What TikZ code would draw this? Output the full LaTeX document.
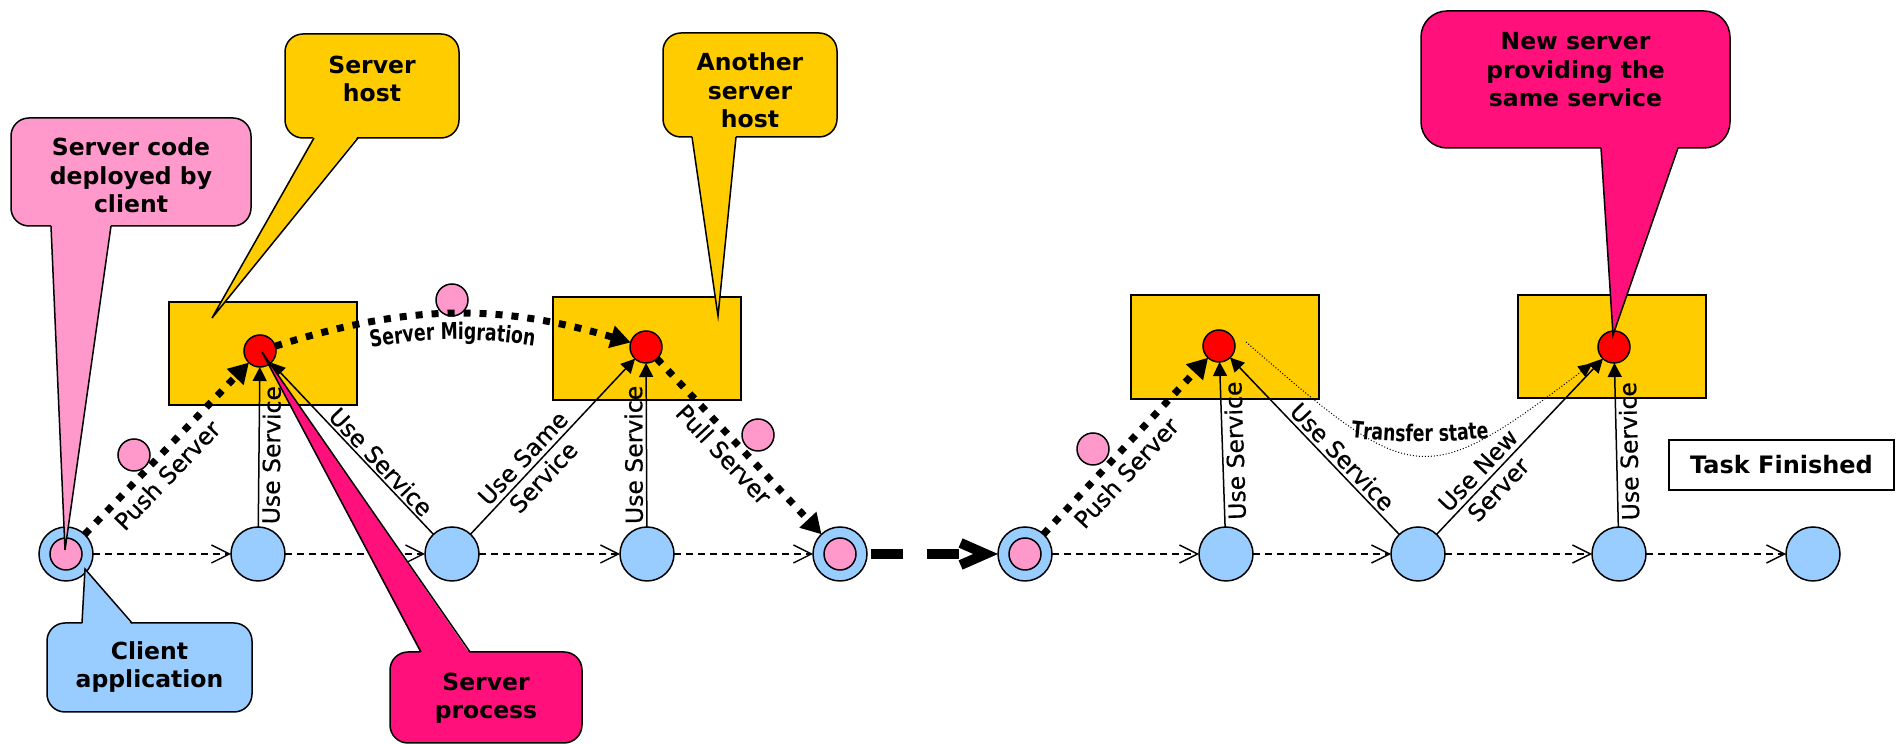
\documentclass[tikz,border=0pt]{standalone}
\usepackage{fontspec}
\setmainfont{DejaVu Sans}
\newfontfamily\narrowfont{DejaVu Sans}[FakeStretch=0.75]
\newfontfamily\edgefont{DejaVu Sans}[FakeBold=0.6]
\usetikzlibrary{arrows.meta,calc,decorations.text}

\definecolor{hostyellow}{HTML}{FFCC00}
\definecolor{codepink}{HTML}{FF99CC}
\definecolor{clientblue}{HTML}{99CCFF}
\definecolor{procmagenta}{RGB}{255,16,122}
\definecolor{procred}{HTML}{FF0000}

\newcommand\lblfont{\edgefont\fontsize{11.75pt}{14pt}\selectfont}
\newcommand\bubblefont{\bfseries\fontsize{11.75pt}{14.25pt}\selectfont}
\newcommand\arcfont{\narrowfont\bfseries\fontsize{11.5pt}{13pt}\selectfont}

\begin{document}
\begin{tikzpicture}[x=0.5pt,y=0.5pt,
  hostbox/.style={draw,line width=1pt,fill=hostyellow,minimum width=94pt,minimum height=51.75pt,inner sep=0pt,outer sep=0pt},
  stepnode/.style={circle,draw,line width=0.75pt,fill=clientblue,minimum size=27pt,inner sep=0pt,outer sep=0pt},
  codedot/.style={circle,draw,line width=0.75pt,fill=codepink,minimum size=16pt,inner sep=0pt,outer sep=0pt},
  procdot/.style={circle,draw,line width=0.75pt,fill=procred,minimum size=16pt,inner sep=0pt,outer sep=0pt},
  flow/.style={line width=0.7pt,dash pattern=on 3.5pt off 2.5pt,-{Straight Barb[length=9pt,width=9pt]}},
  jump/.style={line width=5pt,dash pattern=on 16pt off 12pt on 16pt off 40pt,shorten <=2pt,-{Straight Barb[length=12.5pt,width=11pt]}},
  move/.style={line width=3.5pt,dash pattern=on 3.5pt off 4.5pt,-{Triangle[length=10pt,width=11pt]}},
  use/.style={line width=0.75pt,-{Triangle[length=7pt,width=7pt]}},
  xfer/.style={line width=0.5pt,dash pattern=on 0.5pt off 1pt,-{Triangle[length=7pt,width=6.5pt]}},
  lbl/.style={font=\lblfont,inner sep=0pt,sloped},
  vlbl/.style={lbl,allow upside down},
  callbox/.style={draw,line width=0.75pt,rounded corners=9pt,inner sep=0pt,outer sep=0pt},
  calltext/.style={font=\bubblefont,align=center,inner sep=0pt},
  tailline/.style={line width=0.75pt,line join=miter},
]
\useasboundingbox (0,0) rectangle (1902,744);

% ---------- hosts ----------
\node[hostbox] (h1) at (263,390.5) {};
\node[hostbox] (h2) at (646.5,395.5) {};
\node[hostbox] (h3) at (1225,397) {};
\node[hostbox] (h4) at (1612,397.5) {};

% ---------- mobile code in transit ----------
\node[codedot] (p1) at (134,289) {};
\node[codedot] (p2) at (452,444) {};
\node[codedot] (p3) at (758,309) {};
\node[codedot] (p4) at (1093,295) {};

% ---------- client timeline ----------
\foreach \name/\x in {n1/66,n2/258,n3/452,n4/647,n5/840,n6/1025,n7/1226,n8/1418,n9/1619,n10/1813}
  \node[stepnode] (\name) at (\x,190) {};
\node[codedot] (n1c) at (n1) {};
\node[codedot] (n5c) at (n5) {};
\node[codedot] (n6c) at (n6) {};

% ---------- server processes ----------
\node[procdot] (r1) at (260,393) {};
\node[procdot] (r2) at (646,397) {};
\node[procdot] (r3) at (1219,398) {};
\node[procdot] (r4) at (1614,397) {};

% ---------- time flow ----------
\foreach \a/\b in {n1/n2,n2/n3,n3/n4,n4/n5,n6/n7,n7/n8,n8/n9,n9/n10}
  \draw[flow] (\a) -- (\b);
\draw[jump] (n5) -- (n6);

% ---------- code movements ----------
\draw[move] (n1) -- node[lbl,pos=0.42,below=3pt] {Push Server} (r1);
\draw[move] (r1) to[bend left=17] (r2);
\draw[move] (r2) -- node[lbl,pos=0.48,below=2pt] {Pull Server} (n5);
\draw[move] (n6) -- node[lbl,pos=0.42,below=3pt] {Push Server} (r3);

\coordinate (migL) at ($(r1)+(17,-21)$);
\coordinate (migR) at ($(r2)+(-17,-21)$);
\path[decorate,decoration={text along path,text align=center,text={|\arcfont|Server Migration}}]
  (migL) to[bend left=17] (migR);

% ---------- service use ----------
\draw[use] (n2) -- node[vlbl,pos=0.45,below=1.25pt] {Use Service} (r1);
\draw[use] (n3) -- node[lbl,pos=0.375,above=1pt] {Use Service} (r1);
\draw[use] (n3) -- node[lbl,pos=0.38,align=center] {Use Same\\Service} (r2);
\draw[use] (n4) -- node[vlbl,pos=0.44,above=1.5pt] {Use Service} (r2);
\draw[use] (n7) -- node[vlbl,pos=0.46,below=1.25pt] {Use Service} (r3);
\draw[use] (n8) -- node[lbl,pos=0.39,above=1.5pt] {Use Service} (r3);
\draw[use] (n8) -- node[lbl,pos=0.31,align=center] {Use New\\Server} (r4);
\draw[use] (n9) -- node[vlbl,pos=0.46,below=1.25pt] {Use Service} (r4);

% ---------- state transfer ----------
\coordinate (xs) at ($(r3)+(27,4)$);
\draw[xfer,shorten >=5.5pt] (xs) to[out=-41,in=-143,looseness=1.6] (r4);
\coordinate (xferL) at (1325,309);
\coordinate (xferR) at (1515,309);
\path[decorate,decoration={text along path,text align=center,text={|\arcfont|Transfer state}}]
  (xferL) to[bend right=7] (xferR);

% ---------- end marker ----------
\node[draw,line width=1pt,minimum width=112.5pt,minimum height=25pt,inner sep=0pt,
      font=\bfseries\fontsize{12pt}{14pt}\selectfont] (done) at (1781.5,279) {Task Finished};

% ---------- callouts ----------
% server code deployed by client
\node[callbox,fill=codepink,minimum width=120pt,minimum height=54pt] (cA) at (131,572) {};
\coordinate (cAtip) at ($(n1)+(-1,4)$);
\fill[codepink] ($(cA.south west)+(40,2)$) -- (cAtip) -- ($(cA.south west)+(100,2)$) -- cycle;
\draw[tailline] ($(cA.south west)+(40,0)$) -- (cAtip) -- ($(cA.south west)+(100,0)$);
\node[calltext] (cAt) at (131,568.5) {Server code\\deployed by\\client};

% server host
\node[callbox,fill=hostyellow,minimum width=87pt,minimum height=52pt] (cB) at (372,658) {};
\coordinate (cBtip) at ($(h1)+(-51,35.5)$);
\fill[hostyellow] ($(cB.south west)+(29,2)$) -- (cBtip) -- ($(cB.south west)+(73,2)$) -- cycle;
\draw[tailline] ($(cB.south west)+(29,0)$) -- (cBtip) -- ($(cB.south west)+(73,0)$);
\node[calltext] (cBt) at (372,665) {Server\\host};

% another server host
\node[callbox,fill=hostyellow,minimum width=87pt,minimum height=52pt] (cC) at (750,659) {};
\coordinate (cCtip) at ($(h2)+(71.5,32.5)$);
\fill[hostyellow] ($(cC.south west)+(29,2)$) -- (cCtip) -- ($(cC.south west)+(73,2)$) -- cycle;
\draw[tailline] ($(cC.south west)+(29,0)$) -- (cCtip) -- ($(cC.south west)+(73,0)$);
\node[calltext] (cCt) at (750,653.5) {Another\\server\\host};

% new server
\node[callbox,rounded corners=13pt,fill=procmagenta,minimum width=154.5pt,minimum height=68.5pt] (cD) at (1575.5,664.5) {};
\coordinate (cDtip) at ($(r4)+(-1,12)$);
\fill[procmagenta] ($(cD.south west)+(180,2)$) -- (cDtip) -- ($(cD.south west)+(257,2)$) -- cycle;
\draw[tailline] ($(cD.south west)+(180,0)$) -- (cDtip) -- ($(cD.south west)+(257,0)$);
\node[calltext] (cDt) at (1575.5,674) {New server\\providing the\\same service};

% client application
\node[callbox,fill=clientblue,minimum width=102.5pt,minimum height=44.5pt] (cE) at (149.5,76.5) {};
\coordinate (cEtip) at ($(n1)+(19,-15)$);
\fill[clientblue] ($(cE.north west)+(35,-2)$) -- (cEtip) -- ($(cE.north west)+(85,-2)$) -- cycle;
\draw[tailline] ($(cE.north west)+(35,0)$) -- (cEtip) -- ($(cE.north west)+(85,0)$);
\node[calltext] (cEt) at (149.5,77) {Client\\application};

% server process
\node[callbox,fill=procmagenta,minimum width=96pt,minimum height=45.5pt] (cF) at (486,46.5) {};
\coordinate (cFtip) at ($(r1)+(2,-1)$);
\fill[procmagenta] ($(cF.north west)+(31,-2)$) -- (cFtip) -- ($(cF.north west)+(80,-2)$) -- cycle;
\draw[tailline] ($(cF.north west)+(31,0)$) -- (cFtip) -- ($(cF.north west)+(80,0)$);
\node[calltext] (cFt) at (486,46) {Server\\process};

\end{tikzpicture}
\end{document}
